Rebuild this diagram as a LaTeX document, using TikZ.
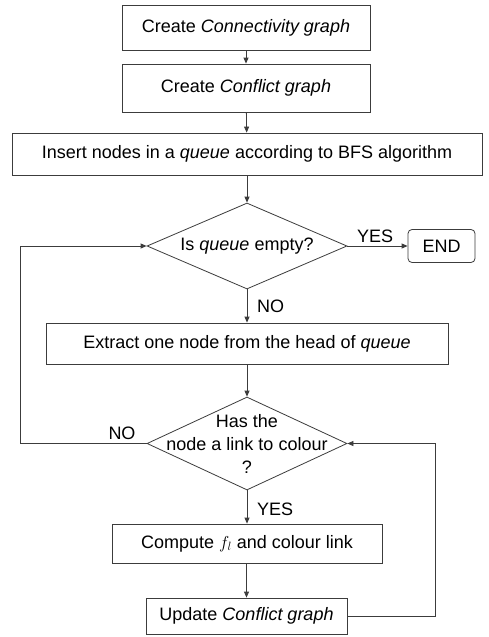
\documentclass[tikz,border=0pt]{standalone}
\usepackage{fontspec}
\setmainfont{Liberation Sans}
\usetikzlibrary{shapes.geometric,arrows.meta}
\definecolor{linec}{RGB}{60,60,60}
\begin{document}
\begin{tikzpicture}[x=1pt,y=-1pt,
  every node/.style={font=\fontsize{18}{23}\selectfont, text=black},
  box/.style={draw=linec, line width=0.8pt, rectangle, inner sep=0pt},
  dia/.style={draw=linec, line width=0.8pt, diamond, inner sep=0pt, minimum width=200pt},
  conn/.style={draw=linec, line width=0.8pt, -{Triangle[length=6pt,width=5pt]}},
  lbl/.style={inner sep=0pt}]
\useasboundingbox[fill=white] (0,0) rectangle (489,637);
\node[box, minimum width=248pt, minimum height=45pt] (b1) at (246,27.5) {Create \textit{Connectivity graph}};
\node[box, minimum width=248pt, minimum height=48pt] (b2) at (246,88) {Create \textit{Conflict graph}};
\node[box, minimum width=470pt, minimum height=42pt] (b3) at (247,154) {Insert nodes in a \textit{queue} according to BFS algorithm};
\node[dia, minimum height=86pt] (d1) at (247,246) {};
\node[lbl] (t1) at (d1.center) {Is \textit{queue} empty?};
\node[box, rounded corners=4pt, minimum width=67pt, minimum height=33pt] (end) at (441.5,246) {END};
\node[box, minimum width=402pt, minimum height=41pt] (b4) at (247,343.5) {Extract one node from the head of \textit{queue}};
\node[dia, minimum height=93pt] (d2) at (247,443.5) {};
\node[lbl, align=center] (t2) at (d2.center) {Has the\\node a link to colour\\?};
\node[box, minimum width=270pt, minimum height=39pt] (b5) at (247,543.5) {Compute $f_l$ and colour link};
\node[box, minimum width=201pt, minimum height=36pt] (b6) at (246.5,616) {Update \textit{Conflict graph}};
\coordinate (la) at (20,443.5);
\coordinate (lb) at (20,246);
\coordinate (ra) at (435,616);
\coordinate (rb) at (435,443.5);
\draw[conn] (b1) -- (b2);
\draw[conn] (b2) -- (b3);
\draw[conn] (b3.south -| d1.north) -- (d1.north);
\draw[conn] (d1.east) -- (end.west);
\draw[conn] (d1.south) -- (b4.north -| d1.south);
\draw[conn] (b4.south -| d2.north) -- (d2.north);
\draw[conn] (d2.south) -- (b5.north -| d2.south);
\draw[conn] (b5.south -| b6.north) -- (b6.north);
\draw[conn] (d2.west) -- (la) -- (lb) -- (d1.west);
\draw[conn] (b6.east) -- (ra) -- (rb) -- (d2.east);
\node[lbl, anchor=south west] (yes1) at (357,243) {YES};
\node[lbl, anchor=north west] (no1) at (257,300) {NO};
\node[lbl, anchor=south] (no2) at (122,440) {NO};
\node[lbl, anchor=north west] (yes2) at (257,503) {YES};
\end{tikzpicture}
\end{document}
